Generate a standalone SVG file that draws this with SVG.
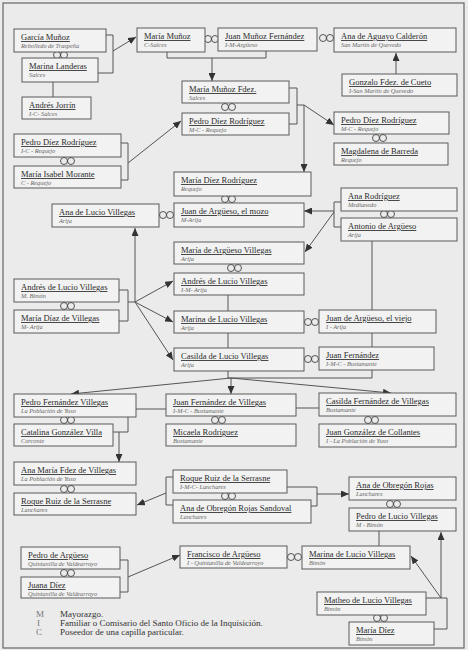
<svg xmlns="http://www.w3.org/2000/svg" width="468" height="650" viewBox="0 0 468 650">
<defs>
<marker id="ah" markerUnits="userSpaceOnUse" markerWidth="8" markerHeight="7" refX="8" refY="3.5" orient="auto"><path d="M0,0 L8,3.5 L0,7 z" fill="#333"/></marker>
<style>
.box{fill:#f2f2f2;stroke:#5a5a5a;stroke-width:1}
.n{font-family:"Liberation Serif",serif;font-size:8.5px;fill:#2b2b2b;text-decoration:underline}
.s{font-family:"Liberation Serif",serif;font-size:6.3px;font-style:italic;fill:#666}
.ln{stroke:#555;stroke-width:1;fill:none}
.ar{stroke:#555;stroke-width:1;fill:none;marker-end:url(#ah)}
.ring{fill:none;stroke:#444;stroke-width:0.9}
.lg{font-family:"Liberation Serif",serif;font-size:9px;fill:#333}
.lk{font-family:"Liberation Serif",serif;font-size:9px;fill:#777}
</style>
</defs>
<rect x="0" y="0" width="468" height="650" fill="#ebebeb"/>
<rect x="3" y="3" width="461" height="645" fill="none" stroke="#666" stroke-width="1.2"/>
<g id="connectors">
<polyline class="ln" points="106,35 113,35 113,73 98,73"/>
<line class="ar" x1="113" y1="51" x2="136" y2="37"/>
<line class="ln" x1="53" y1="82" x2="53" y2="97"/>
<polyline class="ln" points="167,52 167,58 266,58 266,51"/>
<line class="ar" x1="212" y1="58" x2="212" y2="81"/>
<line class="ar" x1="396" y1="74" x2="396" y2="53"/>
<polyline class="ln" points="289,88 297,88 297,124 289,124"/>
<line class="ln" x1="297" y1="105" x2="304" y2="105"/>
<line class="ar" x1="304" y1="105" x2="334" y2="125"/>
<line class="ar" x1="304" y1="105" x2="304" y2="172"/>
<polyline class="ln" points="121,143 128,143 128,180 121,180"/>
<line class="ar" x1="128" y1="163" x2="181" y2="121"/>
<polyline class="ln" points="341,202 334,202 334,227 341,227"/>
<line class="ar" x1="334" y1="211" x2="304" y2="211"/>
<line class="ar" x1="334" y1="212" x2="305" y2="252"/>
<line class="ln" x1="372" y1="241" x2="372" y2="310"/>
<polyline class="ln" points="119,290 128,290 128,321 119,321"/>
<line class="ln" x1="128" y1="302" x2="135" y2="302"/>
<line class="ar" x1="135" y1="302" x2="135" y2="228"/>
<line class="ar" x1="135" y1="302" x2="173" y2="281"/>
<line class="ar" x1="135" y1="302" x2="173" y2="322"/>
<line class="ar" x1="135" y1="302" x2="173" y2="360"/>
<line class="ln" x1="228" y1="295" x2="228" y2="378"/>
<polyline class="ln" points="372,333 372,378 228,378"/>
<line class="ar" x1="231" y1="378" x2="71" y2="394"/>
<line class="ar" x1="231" y1="378" x2="231" y2="394"/>
<line class="ar" x1="231" y1="378" x2="391" y2="393"/>
<line class="ln" x1="136" y1="409" x2="166" y2="409"/>
<polyline class="ln" points="113,432 128,432 128,409"/>
<line class="ar" x1="119" y1="432" x2="119" y2="462"/>
<line class="ln" x1="296" y1="408" x2="319" y2="408"/>
<polyline class="ln" points="173,477 166,477 166,505 173,505"/>
<line class="ar" x1="166" y1="493" x2="137" y2="505"/>
<polyline class="ln" points="287,487 317,487 317,506 311,506"/>
<line class="ar" x1="317" y1="494" x2="349" y2="494"/>
<line class="ln" x1="379" y1="531" x2="379" y2="546"/>
<polyline class="ln" points="120,560 128,560 128,592 120,592"/>
<line class="ar" x1="128" y1="577" x2="180" y2="555"/>
<polyline class="ln" points="426,598 447,598 447,629 434,629"/>
<line class="ar" x1="441" y1="598" x2="441" y2="532"/>
<line class="ar" x1="441" y1="598" x2="411" y2="556"/>
</g>
<g id="rings">
<circle class="ring" cx="57" cy="55" r="3.5"/><circle class="ring" cx="64" cy="55" r="3.5"/>
<circle class="ring" cx="208" cy="39" r="3.5"/><circle class="ring" cx="215" cy="39" r="3.5"/>
<circle class="ring" cx="323" cy="38" r="3.5"/><circle class="ring" cx="330" cy="38" r="3.5"/>
<circle class="ring" cx="225" cy="107" r="3.5"/><circle class="ring" cx="232" cy="107" r="3.5"/>
<circle class="ring" cx="376" cy="138" r="3.5"/><circle class="ring" cx="383" cy="138" r="3.5"/>
<circle class="ring" cx="64" cy="161" r="3.5"/><circle class="ring" cx="71" cy="161" r="3.5"/>
<circle class="ring" cx="225" cy="199" r="3.5"/><circle class="ring" cx="232" cy="199" r="3.5"/>
<circle class="ring" cx="163" cy="215" r="3.5"/><circle class="ring" cx="170" cy="215" r="3.5"/>
<circle class="ring" cx="384" cy="214" r="3.5"/><circle class="ring" cx="391" cy="214" r="3.5"/>
<circle class="ring" cx="231" cy="268" r="3.5"/><circle class="ring" cx="238" cy="268" r="3.5"/>
<circle class="ring" cx="64" cy="306" r="3.5"/><circle class="ring" cx="71" cy="306" r="3.5"/>
<circle class="ring" cx="308" cy="322" r="3.5"/><circle class="ring" cx="315" cy="322" r="3.5"/>
<circle class="ring" cx="308" cy="359" r="3.5"/><circle class="ring" cx="315" cy="359" r="3.5"/>
<circle class="ring" cx="64" cy="420" r="3.5"/><circle class="ring" cx="71" cy="420" r="3.5"/>
<circle class="ring" cx="215" cy="420" r="3.5"/><circle class="ring" cx="222" cy="420" r="3.5"/>
<circle class="ring" cx="368" cy="420" r="3.5"/><circle class="ring" cx="375" cy="420" r="3.5"/>
<circle class="ring" cx="64" cy="489" r="3.5"/><circle class="ring" cx="71" cy="489" r="3.5"/>
<circle class="ring" cx="225" cy="496" r="3.5"/><circle class="ring" cx="232" cy="496" r="3.5"/>
<circle class="ring" cx="390" cy="504" r="3.5"/><circle class="ring" cx="397" cy="504" r="3.5"/>
<circle class="ring" cx="64" cy="573" r="3.5"/><circle class="ring" cx="71" cy="573" r="3.5"/>
<circle class="ring" cx="291" cy="557" r="3.5"/><circle class="ring" cx="298" cy="557" r="3.5"/>
<circle class="ring" cx="377" cy="618" r="3.5"/><circle class="ring" cx="384" cy="618" r="3.5"/>
</g>
<g id="garcia"><rect class="box" x="14" y="29" width="92" height="23"/><text class="n" x="21" y="40">García Muñoz</text><text class="s" x="21" y="48">Rebolledo de Traspeña</text></g>
<g id="marinaL"><rect class="box" x="22" y="58" width="76" height="24"/><text class="n" x="29" y="69">Marina Landeras</text><text class="s" x="29" y="77">Salces</text></g>
<g id="andresJ"><rect class="box" x="22" y="97" width="69" height="22"/><text class="n" x="29" y="108">Andrés Jorrín</text><text class="s" x="29" y="116">I-C- Salces</text></g>
<g id="mariaM"><rect class="box" x="137" y="28" width="68" height="24"/><text class="n" x="144" y="39">María Muñoz</text><text class="s" x="144" y="47">C-Salces</text></g>
<g id="juanMF"><rect class="box" x="218" y="28" width="99" height="23"/><text class="n" x="225" y="39">Juan Muñoz  Fernández</text><text class="s" x="225" y="47">I-M-Argüeso</text></g>
<g id="anaAC"><rect class="box" x="334" y="28" width="122" height="24"/><text class="n" x="341" y="39">Ana de Aguayo Calderón</text><text class="s" x="341" y="47">San Martín de Quevedo</text></g>
<g id="gonzalo"><rect class="box" x="342" y="74" width="115" height="22"/><text class="n" x="349" y="85">Gonzalo Fdez. de Cueto</text><text class="s" x="349" y="93">I-San Martín de Quevedo</text></g>
<g id="mariaMF"><rect class="box" x="182" y="81" width="107" height="22"/><text class="n" x="189" y="92">María Muñoz Fdez.</text><text class="s" x="189" y="100">Salces</text></g>
<g id="pedroDR1"><rect class="box" x="182" y="113" width="107" height="22"/><text class="n" x="189" y="124">Pedro Díez Rodríguez</text><text class="s" x="189" y="132">M-C - Requejo</text></g>
<g id="pedroDR2"><rect class="box" x="334" y="112" width="115" height="22"/><text class="n" x="341" y="123">Pedro Díez Rodríguez</text><text class="s" x="341" y="131">M-C - Requejo</text></g>
<g id="magdalena"><rect class="box" x="334" y="143" width="114" height="22"/><text class="n" x="341" y="154">Magdalena de Barreda</text><text class="s" x="341" y="162">Requejo</text></g>
<g id="pedroDR3"><rect class="box" x="14" y="134" width="107" height="23"/><text class="n" x="21" y="145">Pedro Díez Rodríguez</text><text class="s" x="21" y="153">I-C - Requejo</text></g>
<g id="mariaIM"><rect class="box" x="14" y="166" width="107" height="22"/><text class="n" x="21" y="177">María Isabel Morante</text><text class="s" x="21" y="185">C - Requejo</text></g>
<g id="mariaDR"><rect class="box" x="174" y="172" width="137" height="24"/><text class="n" x="181" y="183">María Díez Rodríguez</text><text class="s" x="181" y="191">Requejo</text></g>
<g id="juanMozo"><rect class="box" x="174" y="203" width="130" height="24"/><text class="n" x="181" y="214">Juan de Argüeso, el mozo</text><text class="s" x="181" y="222">M-Arija</text></g>
<g id="anaLV"><rect class="box" x="52" y="204" width="107" height="23"/><text class="n" x="59" y="215">Ana de Lucio Villegas</text><text class="s" x="59" y="223">Arija</text></g>
<g id="anaR"><rect class="box" x="341" y="188" width="116" height="23"/><text class="n" x="348" y="199">Ana Rodríguez</text><text class="s" x="348" y="207">Medianedo</text></g>
<g id="antonio"><rect class="box" x="341" y="218" width="116" height="23"/><text class="n" x="348" y="229">Antonio de Argüeso</text><text class="s" x="348" y="237">Arija</text></g>
<g id="mariaAV"><rect class="box" x="174" y="242" width="130" height="22"/><text class="n" x="181" y="253">María de Argüeso Villegas</text><text class="s" x="181" y="261">Arija</text></g>
<g id="andresLV1"><rect class="box" x="174" y="273" width="130" height="22"/><text class="n" x="181" y="284">Andrés de Lucio Villegas</text><text class="s" x="181" y="292">I-M- Arija</text></g>
<g id="andresLV0"><rect class="box" x="14" y="279" width="105" height="23"/><text class="n" x="21" y="290">Andrés de Lucio Villegas</text><text class="s" x="21" y="298">M. Bimón</text></g>
<g id="mariaDV"><rect class="box" x="14" y="310" width="105" height="23"/><text class="n" x="21" y="321">María Díaz de Villegas</text><text class="s" x="21" y="329">M- Arija</text></g>
<g id="marinaLV"><rect class="box" x="174" y="311" width="130" height="22"/><text class="n" x="181" y="322">Marina de Lucio Villegas</text><text class="s" x="181" y="330">Arija</text></g>
<g id="juanViejo"><rect class="box" x="319" y="310" width="117" height="23"/><text class="n" x="326" y="321">Juan de Argüeso, el viejo</text><text class="s" x="326" y="329">I - Arija</text></g>
<g id="casildaLV"><rect class="box" x="174" y="348" width="130" height="23"/><text class="n" x="181" y="359">Casilda de Lucio Villegas</text><text class="s" x="181" y="367">Arija</text></g>
<g id="juanF"><rect class="box" x="319" y="347" width="115" height="23"/><text class="n" x="326" y="358">Juan  Fernández</text><text class="s" x="326" y="366">I-M-C - Bustamante</text></g>
<g id="pedroFV"><rect class="box" x="14" y="394" width="122" height="23"/><text class="n" x="21" y="405">Pedro Fernández Villegas</text><text class="s" x="21" y="413">La Población de Yuso</text></g>
<g id="catalina"><rect class="box" x="14" y="424" width="99" height="22"/><text class="n" x="21" y="435">Catalina González Villa</text><text class="s" x="21" y="443">Corconte</text></g>
<g id="juanFV"><rect class="box" x="166" y="394" width="130" height="22"/><text class="n" x="173" y="405">Juan Fernández de Villegas</text><text class="s" x="173" y="413">I-M-C - Bustamante</text></g>
<g id="micaela"><rect class="box" x="166" y="424" width="130" height="22"/><text class="n" x="173" y="435">Micaela Rodríguez</text><text class="s" x="173" y="443">Bustamante</text></g>
<g id="casildaFV"><rect class="box" x="319" y="393" width="137" height="23"/><text class="n" x="326" y="404">Casilda Fernández de Villegas</text><text class="s" x="326" y="412">Bustamante</text></g>
<g id="juanGC"><rect class="box" x="319" y="424" width="137" height="23"/><text class="n" x="326" y="435">Juan González de Collantes</text><text class="s" x="326" y="443">I - La Población de Yuso</text></g>
<g id="anaMF"><rect class="box" x="14" y="462" width="122" height="23"/><text class="n" x="21" y="473">Ana María Fdez de Villegas</text><text class="s" x="21" y="481">La Población de Yuso</text></g>
<g id="roque1"><rect class="box" x="14" y="493" width="122" height="22"/><text class="n" x="21" y="504">Roque Ruiz de la Serrasne</text><text class="s" x="21" y="512">Lanchares</text></g>
<g id="roque2"><rect class="box" x="173" y="470" width="114" height="23"/><text class="n" x="180" y="481">Roque Ruiz de la Serrasne</text><text class="s" x="180" y="489">I-M-C- Lanchares</text></g>
<g id="anaORS"><rect class="box" x="173" y="500" width="138" height="23"/><text class="n" x="180" y="511">Ana de Obregón Rojas Sandoval</text><text class="s" x="180" y="519">Lanchares</text></g>
<g id="anaOR"><rect class="box" x="349" y="477" width="107" height="23"/><text class="n" x="356" y="488">Ana de Obregón Rojas</text><text class="s" x="356" y="496">Lanchares</text></g>
<g id="pedroLV"><rect class="box" x="349" y="508" width="107" height="23"/><text class="n" x="356" y="519">Pedro de Lucio Villegas</text><text class="s" x="356" y="527">M - Bimón</text></g>
<g id="pedroA"><rect class="box" x="21" y="547" width="99" height="22"/><text class="n" x="28" y="558">Pedro de Argüeso</text><text class="s" x="28" y="566">Quintanilla de Valdearroyo</text></g>
<g id="juana"><rect class="box" x="21" y="577" width="99" height="21"/><text class="n" x="28" y="588">Juana Díez</text><text class="s" x="28" y="596">Quintanilla de Valdearroyo</text></g>
<g id="francisco"><rect class="box" x="180" y="546" width="107" height="22"/><text class="n" x="187" y="557">Francisco de Argüeso</text><text class="s" x="187" y="565">I - Quintanilla de Valdearroyo</text></g>
<g id="marinaB"><rect class="box" x="302" y="546" width="108" height="23"/><text class="n" x="309" y="557">Marina de Lucio Villegas</text><text class="s" x="309" y="565">Bimón</text></g>
<g id="matheo"><rect class="box" x="317" y="592" width="109" height="23"/><text class="n" x="324" y="603">Matheo de Lucio Villegas</text><text class="s" x="324" y="611">Bimón</text></g>
<g id="mariaD"><rect class="box" x="349" y="622" width="85" height="23"/><text class="n" x="356" y="633">María Díez</text><text class="s" x="356" y="641">Bimón</text></g>
<g id="legend">
<text class="lk" x="36" y="617">M</text><text class="lg" x="60" y="617">Mayorazgo.</text>
<text class="lk" x="37" y="626">I</text><text class="lg" x="60" y="626">Familiar o Comisario del Santo Oficio de la Inquisición.</text>
<text class="lk" x="36" y="635">C</text><text class="lg" x="60" y="635">Poseedor de una capilla particular.</text>
</g>
</svg>
